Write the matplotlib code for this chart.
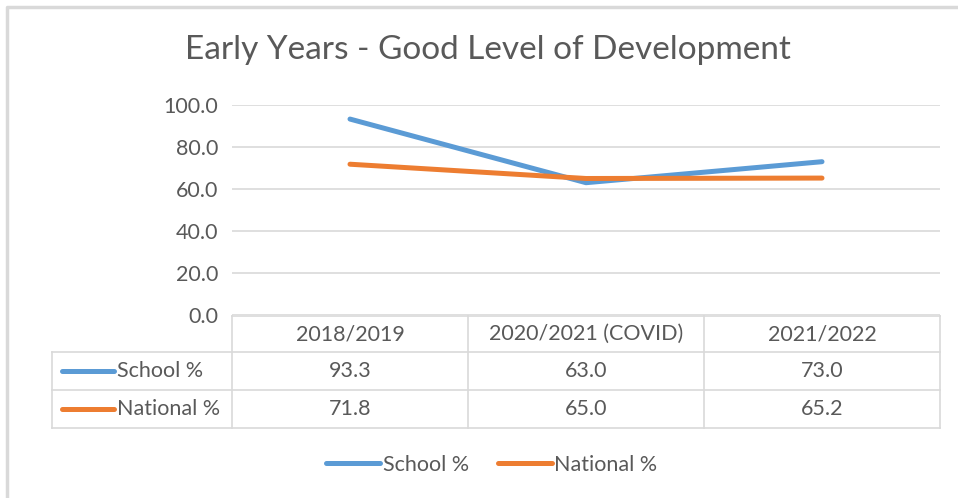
import matplotlib.pyplot as plt
from matplotlib.lines import Line2D

plt.rcParams['font.family'] = ['Lato', 'DejaVu Sans']

# data
categories = ['2018/2019', '2020/2021 (COVID)', '2021/2022']
school = [93.3, 63.0, 73.0]
national = [71.8, 65.0, 65.2]
series_names = ['School %', 'National %']
colors = ['#5B9BD5', '#ED7D31']
text_col = '#595959'
grid_col = '#D9D9D9'

W, H = 958, 498
fig = plt.figure(figsize=(W / 100, H / 100), dpi=100)


def px_axes(x0, y0, x1, y1):
    # axes from pixel box (top-left origin)
    return fig.add_axes([x0 / W, 1 - y1 / H, (x1 - x0) / W, (y1 - y0) / H])


# outer chart border
bg = px_axes(0, 0, W, H)
bg.set_xlim(0, W)
bg.set_ylim(H, 0)
bg.axis('off')
bg.plot([7, 7, W], [H, 7, 7], color='#D9D9D9', lw=2.5, solid_capstyle='butt')

fig.text(488 / W, 1 - 50 / H, 'Early Years - Good Level of Development',
         ha='center', va='center', fontsize=24, color=text_col)

fs = 15.5

# plot area
ax = px_axes(232, 105, 940, 315)
x = range(len(categories))
ax.plot(x, school, color=colors[0], lw=3.6, solid_capstyle='round')
ax.plot(x, national, color=colors[1], lw=3.6, solid_capstyle='round')
ax.set_xlim(-0.5, len(categories) - 0.5)
ax.set_ylim(0, 100)
ax.set_yticks(range(0, 101, 20))
ax.set_yticklabels([f'{v:.1f}' for v in range(0, 101, 20)])
ax.tick_params(axis='y', length=0, pad=10, labelsize=fs, labelcolor=text_col)
ax.set_xticks([])
ax.grid(axis='y', color=grid_col, lw=1.2)
ax.set_axisbelow(True)
for s in ax.spines.values():
    s.set_visible(False)
ax.patch.set_alpha(0)

# data table
col_edges = [232, 468, 704, 940]
row_edges = [316, 352, 390, 428]
tl = dict(color=grid_col, lw=1.2)
bg.plot([232, 940], [row_edges[0]] * 2, **tl)
for yy in row_edges[1:]:
    bg.plot([52, 940], [yy, yy], **tl)
bg.plot([52, 52], [row_edges[1], row_edges[3]], **tl)
for xx in col_edges:
    bg.plot([xx, xx], [row_edges[0], row_edges[3]], **tl)

for i, c in enumerate(categories):
    cx = (col_edges[i] + col_edges[i + 1]) / 2
    bg.text(cx, (row_edges[0] + row_edges[1]) / 2, c, ha='center', va='center',
            fontsize=fs, color=text_col)
for r, vals in enumerate([school, national]):
    cy = (row_edges[r + 1] + row_edges[r + 2]) / 2
    bg.plot([62, 114], [cy, cy], color=colors[r], lw=3.6, solid_capstyle='round')
    bg.text(117, cy, series_names[r], ha='left', va='center', fontsize=fs, color=text_col)
    for i, v in enumerate(vals):
        cx = (col_edges[i] + col_edges[i + 1]) / 2
        bg.text(cx, cy, f'{v:.1f}', ha='center', va='center', fontsize=fs, color=text_col)

# legend
handles = [Line2D([], [], color=c, lw=3.6, solid_capstyle='round') for c in colors]
fig.legend(handles, series_names, loc='center', bbox_to_anchor=(492 / W, 1 - 465 / H),
           ncol=2, frameon=False, fontsize=fs, handlelength=2.5, handletextpad=0.12,
           columnspacing=1.35, labelcolor=text_col)

fig.savefig('out.png', dpi=100)
